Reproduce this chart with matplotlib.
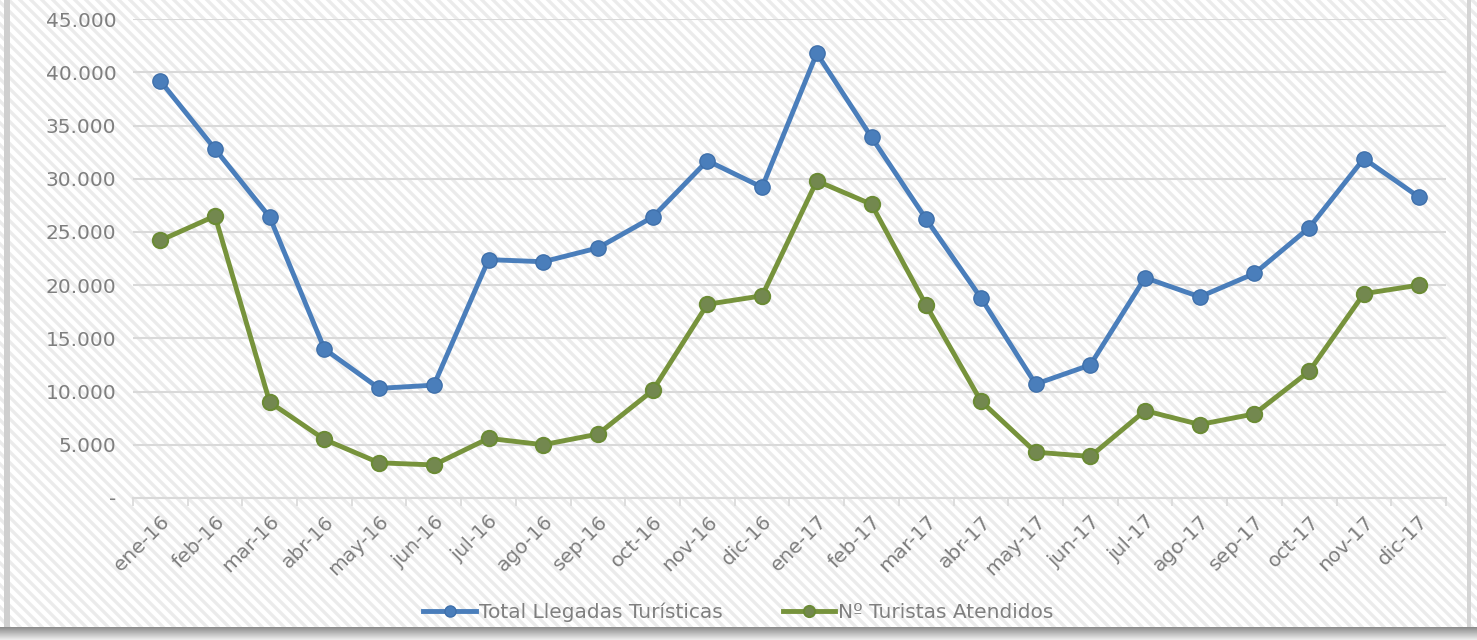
import matplotlib.pyplot as plt
import numpy as np
from matplotlib.lines import Line2D
from matplotlib.patches import Rectangle
from matplotlib.ticker import FixedLocator

meses = ['ene-16', 'feb-16', 'mar-16', 'abr-16', 'may-16', 'jun-16',
         'jul-16', 'ago-16', 'sep-16', 'oct-16', 'nov-16', 'dic-16',
         'ene-17', 'feb-17', 'mar-17', 'abr-17', 'may-17', 'jun-17',
         'jul-17', 'ago-17', 'sep-17', 'oct-17', 'nov-17', 'dic-17']

# Total Llegadas Turísticas
llegadas = [39200, 32800, 26400, 14000, 10300, 10600,
            22400, 22200, 23500, 26400, 31700, 29200,
            41800, 33900, 26200, 18800, 10700, 12500,
            20700, 18900, 21100, 25400, 31900, 28300]

# Nº Turistas Atendidos
atendidos = [24200, 26500, 9000, 5500, 3300, 3100,
             5600, 5000, 6000, 10100, 18200, 19000,
             29800, 27600, 18100, 9100, 4300, 3900,
             8200, 6900, 7900, 11900, 19200, 20000]

y_ticks = [0, 5000, 10000, 15000, 20000, 25000, 30000, 35000, 40000, 45000]
y_labels = ['-', '5.000', '10.000', '15.000', '20.000', '25.000',
            '30.000', '35.000', '40.000', '45.000']

plt.rcParams['font.family'] = ['DejaVu Sans']

W, H = 1477, 640
fig = plt.figure(figsize=(W / 100, H / 100), dpi=100)
fig.patch.set_facecolor('white')

# fondo rayado (diagonales cada ~11 px)
for c in range(0, W + H + 11, 11):
    fig.add_artist(Line2D([c - H - 20, c + 20], [H + 20, -20],
                          transform=None, color='#ebebeb',
                          linewidth=2.4, zorder=-10))

# bordes laterales
fig.patches.append(Rectangle((0.003, 0), 0.004, 1, transform=fig.transFigure,
                             facecolor='#cfcfcf', edgecolor='none', zorder=-5))
fig.patches.append(Rectangle((0.993, 0), 0.003, 1, transform=fig.transFigure,
                             facecolor='#d4d4d4', edgecolor='none', zorder=-5))
# sombra inferior
sombra = fig.add_axes([0, 0, 1, 0.02])
sombra.imshow(np.linspace(0.55, 0.93, 20).reshape(-1, 1), cmap='gray',
              vmin=0, vmax=1, aspect='auto', extent=[0, 1, 0, 1])
sombra.axis('off')

ax = fig.add_axes([0.090, 0.222, 0.889, 0.748])
ax.patch.set_alpha(0)

x = list(range(len(meses)))
ax.plot(x, llegadas, color='#4a7ebb', linewidth=3.5, marker='o',
        markersize=11, markerfacecolor='#4a7ebb', markeredgecolor='#3f70ab',
        label='Total Llegadas Turísticas', zorder=3)
ax.plot(x, atendidos, color='#77933c', linewidth=3.5, marker='o',
        markersize=11, markerfacecolor='#73884f', markeredgecolor='#6b8b35',
        markeredgewidth=1.5, label='Nº Turistas Atendidos', zorder=3)

ax.set_xlim(-0.5, len(meses) - 0.5)
ax.set_ylim(0, 45000)
ax.set_yticks(y_ticks)
ax.set_yticklabels(y_labels)
ax.set_xticks(x)
ax.set_xticklabels(meses, rotation=45, ha='right', rotation_mode='anchor')
ax.xaxis.set_minor_locator(FixedLocator([i - 0.5 for i in range(len(meses) + 1)]))
ax.tick_params(axis='x', which='major', length=0, pad=10,
               labelsize=14.5, labelcolor='#7f7f7f')
ax.tick_params(axis='x', which='minor', length=6, color='#d9d9d9', width=1.2)
ax.tick_params(axis='y', length=0, pad=12, labelsize=14.5, labelcolor='#7f7f7f')

ax.grid(axis='y', color='#d9d9d9', linewidth=1.5)
ax.set_axisbelow(True)
for s in ['top', 'right', 'left']:
    ax.spines[s].set_visible(False)
ax.spines['bottom'].set_color('#d9d9d9')
ax.spines['bottom'].set_linewidth(1.5)

leg = fig.legend(loc='center', bbox_to_anchor=(0.5, 0.043), ncol=2,
                 frameon=False, fontsize=14.5, handlelength=2.6,
                 handletextpad=0.15, columnspacing=3.0)
for t in leg.get_texts():
    t.set_color('#7f7f7f')
for h in leg.legend_handles:
    h.set_markersize(8)

fig.savefig('out.png', dpi=100)
